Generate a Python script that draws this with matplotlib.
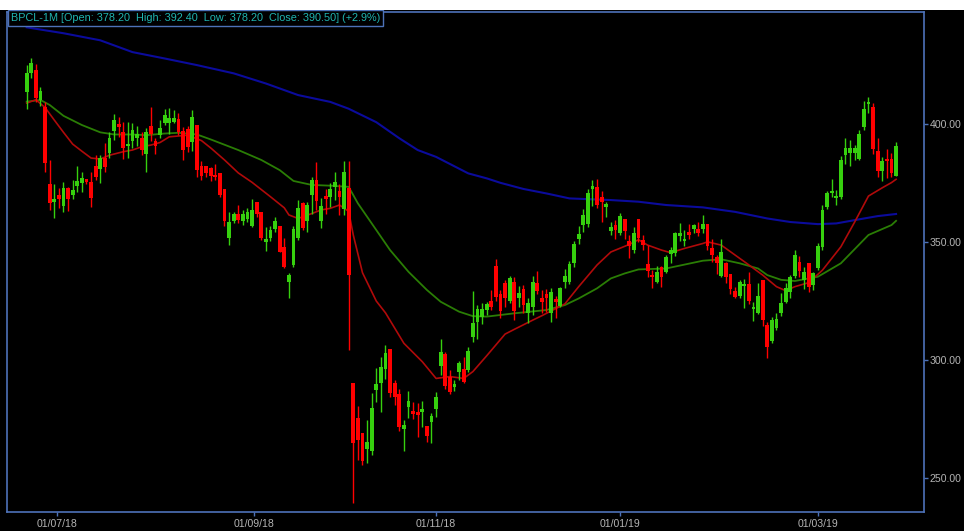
import numpy as np
import pandas as pd
import matplotlib
matplotlib.use("Agg")
import matplotlib.pyplot as plt
from matplotlib.patches import Rectangle

# ---------------- data ----------------
opens = [413.4, 421.5, 422.9, 410.0, 407.3, 374.4, 367.1, 369.9, 365.4, 372.7,
         369.9, 373.9, 375.0, 376.7, 375.3, 382.3, 380.9, 385.7, 387.9, 397.0,
         400.1, 396.7, 390.8, 392.8, 394.2, 393.9, 387.2, 399.3, 392.8, 395.3,
         400.6, 400.3,
         401.0, 402.1, 397.0, 397.9, 392.5, 399.6, 382.4, 382.4, 381.2, 378.4,
         379.1, 372.3, 351.8, 358.9, 362.1, 358.9, 359.7, 356.9, 367.1, 362.9,
         349.9, 351.6, 355.5, 356.9, 348.0, 332.9, 340.3, 351.6, 366.4, 358.9,
         369.9, 376.3, 358.9,
         369.6, 368.9, 373.4, 371.7, 363.8, 372.7, 290.1, 275.3, 269.2, 262.1,
         261.6, 287.3, 290.4, 296.0, 304.5, 290.4, 285.6, 270.6, 280.2, 278.5,
         278.1, 278.1, 272.0, 273.9, 279.1, 297.5, 302.5, 292.9, 288.4, 295.1,
         296.0, 295.8, 309.9, 316.2,
         318.1, 321.2, 325.0, 339.8, 328.0, 332.8, 325.1, 333.2, 326.1, 329.9,
         320.1, 322.6, 332.8, 326.1, 328.0, 319.8, 325.7, 322.9, 333.2, 333.2,
         341.0, 351.1, 357.2, 357.6, 372.3, 373.2, 368.9, 364.7, 354.8, 357.2,
         354.0, 359.6, 350.6, 346.6,
         359.6, 350.9, 340.7, 336.0, 333.2, 339.3, 337.4, 344.9, 345.2, 352.5,
         350.6, 354.4, 355.4, 355.4, 355.4, 357.6, 347.3, 343.5, 335.6, 341.0,
         336.4, 329.4, 327.1, 331.4, 332.2, 321.5, 319.8, 333.9, 314.8, 308.2,
         313.4, 319.8, 324.7,
         328.9, 335.6, 341.7, 333.9, 341.2, 331.8, 338.8, 347.7, 364.7, 370.8,
         368.8, 368.9, 386.9, 387.6, 387.6, 385.4, 398.6, 408.5, 407.1, 388.7,
         380.2, 385.0, 385.0, 378.2]
highs = [425.0, 428.1, 425.3, 415.8, 409.5, 384.7, 374.4, 372.7, 375.6, 373.4,
         376.3, 382.3, 379.5, 376.7, 379.5, 386.9, 387.1, 391.8, 396.5, 404.1,
         403.1, 401.0, 401.0, 400.3, 399.3, 396.5, 398.4, 407.3, 393.9, 401.7,
         406.4, 406.9,
         405.9, 404.5, 398.9, 399.3, 405.9, 399.6, 384.3, 382.4, 381.9, 382.9,
         379.1, 372.3, 362.9, 362.9, 365.7, 363.6, 364.3, 368.2, 367.1, 362.9,
         356.5, 356.9, 360.7, 356.9, 351.6, 336.7, 356.9, 367.8, 367.1, 367.1,
         377.7, 384.0, 368.5,
         372.5, 374.9, 379.8, 374.6, 384.5, 384.5, 290.1, 280.5, 269.2, 274.6,
         286.2, 296.5, 301.4, 306.4, 304.5, 291.5, 287.6, 274.6, 287.0, 282.3,
         281.6, 282.8, 272.0, 277.7, 286.6, 308.8, 303.5, 295.8, 291.5, 299.7,
         301.4, 305.6, 329.4, 323.3,
         324.3, 324.7, 329.7, 342.7, 329.7, 333.9, 335.6, 335.3, 331.3, 331.8,
         326.1, 335.6, 337.9, 329.7, 329.9, 330.4, 327.1, 331.1, 338.4, 342.1,
         350.6, 356.8, 363.8, 372.3, 376.3, 376.6, 371.8, 367.1, 358.6, 359.3,
         362.4, 359.6, 353.0, 356.5,
         359.6, 353.0, 348.7, 338.1, 339.8, 339.8, 344.5, 348.0, 354.4, 357.9,
         355.1, 357.6, 357.6, 358.6, 361.4, 357.6, 351.1, 344.5, 351.1, 341.7,
         336.4, 330.8, 333.9, 334.2, 337.4, 324.7, 332.5, 333.9, 316.2, 318.1,
         320.1, 328.3, 332.5,
         336.0, 346.6, 344.1, 339.5, 341.2, 337.4, 349.4, 365.7, 371.8, 376.6,
         372.0, 386.4, 393.9, 393.2, 391.1, 397.7, 409.9, 411.3, 408.8, 394.2,
         386.2, 389.3, 387.6, 392.4]
lows = [406.6, 419.4, 409.5, 407.8, 379.5, 363.6, 360.0, 364.3, 362.6, 363.1,
        368.2, 371.3, 371.3, 374.4, 365.0, 376.3, 374.9, 379.8, 385.5, 393.2,
        394.6, 385.2, 385.7, 389.7, 390.8, 387.1, 379.8, 392.8, 387.4, 394.2,
        399.6, 396.0,
        400.3, 395.3, 384.7, 388.3, 388.6, 377.7, 376.3, 377.7, 375.9, 376.3,
        369.2, 356.9, 348.7, 357.9, 357.9, 357.2, 358.6, 356.5, 360.7, 350.9,
        346.2, 350.4, 354.1, 345.6, 338.8, 326.1, 339.6, 350.9, 355.1, 354.4,
        362.1, 363.6, 355.8,
        362.1, 365.0, 367.8, 361.5, 361.5, 304.2, 239.3, 257.6, 255.5, 256.2,
        259.8, 282.4, 278.1, 291.8, 284.5, 280.9, 270.1, 261.6, 275.3, 274.9,
        267.5, 271.7, 265.4, 265.0, 276.0, 293.6, 287.6, 285.6, 287.0, 291.5,
        290.1, 295.1, 307.8, 308.8,
        315.3, 319.1, 321.2, 325.1, 317.7, 322.6, 324.0, 316.9, 322.3, 319.8,
        315.5, 319.1, 328.0, 320.1, 320.5, 316.2, 317.7, 322.3, 330.4, 332.2,
        339.3, 349.1, 354.4, 356.2, 365.3, 364.3, 358.6, 360.7, 353.0, 351.5,
        353.0, 351.5, 343.1, 345.2,
        350.1, 346.6, 335.3, 330.4, 332.8, 330.8, 336.7, 341.2, 344.1, 350.6,
        348.3, 351.1, 354.0, 352.5, 354.0, 346.6, 341.7, 336.4, 335.0, 332.8,
        328.0, 326.5, 326.5, 321.9, 323.7, 316.7, 319.5, 314.4, 300.7, 307.4,
        312.7, 318.6, 324.0,
        326.1, 334.6, 335.3, 329.9, 329.0, 329.7, 338.1, 346.6, 363.8, 369.2,
        365.7, 368.1, 383.1, 382.2, 384.8, 384.8, 397.5, 404.5, 387.3, 377.4,
        376.0, 377.0, 377.4, 378.2]
closes = [421.8, 425.7, 411.2, 414.1, 383.3, 366.4, 368.2, 368.2, 372.7, 368.2,
          372.0, 375.8, 377.0, 375.3, 368.5, 377.7, 385.7, 381.9, 393.9, 401.7,
          398.9, 390.0, 391.2, 397.5, 396.0, 389.0, 396.7, 395.9, 390.7, 398.4,
          403.8, 402.7,
          402.7, 396.5, 389.0, 390.4, 403.1, 380.5, 378.1, 379.1, 378.1, 377.7,
          369.9, 358.9, 358.6, 362.1, 359.3, 362.1, 362.9, 363.6, 361.7, 351.6,
          351.3, 355.1, 358.9, 345.9, 339.6, 336.0, 355.5, 364.3, 355.8, 365.7,
          376.3, 367.4, 365.4,
          368.4, 372.3, 375.3, 369.2, 379.8, 336.0, 265.0, 266.1, 257.3, 265.4,
          279.5, 289.8, 296.9, 303.1, 285.9, 284.5, 271.7, 272.6, 282.8, 277.1,
          276.7, 279.1, 267.8, 276.3, 284.5, 303.5, 289.0, 286.6, 289.8, 298.6,
          290.8, 304.0, 315.8, 321.5,
          321.5, 323.7, 322.3, 326.8, 320.9, 326.5, 334.6, 320.9, 328.5, 323.3,
          324.3, 333.2, 329.4, 324.7, 326.1, 329.0, 324.7, 330.4, 335.6, 340.7,
          349.1, 353.4, 361.4, 370.9, 373.7, 365.7, 367.1, 366.1, 356.2, 355.1,
          361.0, 354.8, 348.3, 353.7,
          351.6, 348.7, 337.9, 335.3, 337.4, 335.0, 343.5, 346.6, 354.0, 354.0,
          351.1, 353.0, 357.2, 354.0, 357.6, 348.3, 344.5, 341.2, 345.9, 335.0,
          329.9, 326.8, 333.2, 331.8, 325.1, 322.3, 327.1, 317.0, 305.7, 317.0,
          317.2, 324.0, 330.4,
          335.0, 344.5, 337.9, 337.4, 331.1, 336.7, 348.3, 363.6, 370.6, 371.6,
          369.6, 384.8, 389.7, 389.7, 389.7, 396.0, 406.6, 409.5, 389.3, 380.2,
          384.5, 384.5, 379.4, 390.5]

# moving-average lines, read at selected candle indices
ma_short_idx = [0, 2, 4, 6, 8, 10, 12, 14, 16, 18, 21, 23, 25, 27, 29, 31, 35, 38,
                40, 43, 46, 49, 53, 56, 57, 59, 62, 64, 66, 68, 70, 71, 73, 76, 78,
                82, 86, 89, 92, 95, 97, 100, 104, 106, 110, 112, 117, 120, 124, 127,
                131, 133, 135, 138, 140, 143, 147, 148, 151, 154, 157, 160, 163, 165,
                167, 170, 173, 177, 180, 183, 186, 188, 189]
ma_short_val = [408.9, 410.3, 407.0, 401.7, 396.5, 391.5, 388.5, 385.6, 385.2, 386.8,
                388.3, 389.0, 390.4, 391.1, 392.2, 394.6, 395.3, 393.0, 389.9, 384.8,
                379.3, 375.3, 369.2, 364.5, 361.5, 360.0, 362.1, 363.6, 364.3, 365.7,
                363.0, 353.0, 337.0, 325.0, 320.0, 307.1, 299.3, 292.2, 293.0, 292.2,
                295.1, 301.8, 311.0, 313.0, 316.9, 318.8, 323.8, 331.1, 340.3, 345.8,
                349.0, 351.0, 348.7, 346.6, 345.5, 347.3, 349.4, 350.1, 348.7, 344.5,
                340.3, 336.0, 331.1, 329.4, 331.1, 332.8, 338.1, 348.0, 358.5, 369.5,
                373.0, 375.2, 376.6]

ma_mid_idx = [0, 3, 5, 8, 12, 16, 19, 23, 26, 30, 33, 37, 40, 46, 51, 55, 58, 62, 66,
              70, 72, 76, 79, 83, 87, 90, 94, 97, 100, 106, 113, 117, 120, 124, 127,
              130, 133, 139, 147, 151, 155, 159, 161, 164, 167, 172, 177, 183, 188, 189]
ma_mid_val = [409.5, 410.2, 408.1, 403.5, 399.6, 396.5, 395.6, 395.6, 395.3, 396.0,
              396.3, 395.6, 393.5, 389.0, 384.8, 380.5, 375.9, 374.2, 373.9, 373.4,
              366.4, 355.1, 346.6, 337.4, 329.7, 324.7, 320.5, 318.6, 318.4, 319.8,
              321.2, 323.3, 326.1, 330.4, 334.6, 336.7, 338.4, 338.8, 342.1, 342.7,
              341.0, 338.8, 336.0, 334.0, 333.5, 335.3, 341.0, 353.0, 357.2, 359.0]

ma_long_idx = [0, 8, 16, 23, 30, 37, 45, 52, 59, 66, 70, 76, 81, 85, 89, 96, 100,
               103, 108, 113, 118, 127, 133, 139, 147, 154, 161, 166, 172, 176, 180,
               185, 189]
ma_long_val = [441.0, 438.5, 435.5, 430.5, 427.8, 425.0, 421.5, 417.2, 412.3, 409.4,
               406.5, 400.8, 394.0, 389.0, 386.1, 379.1, 377.0, 375.1, 372.5, 370.6,
               368.5, 367.8, 367.1, 365.7, 364.7, 362.8, 360.0, 358.5, 357.6, 357.9,
               359.3, 361.0, 361.9]

holidays = ["2018-08-15", "2018-08-22", "2018-09-13", "2018-09-20", "2018-10-02",
            "2018-10-18", "2018-11-08", "2018-11-23", "2018-12-25", "2019-03-04",
            "2019-03-21"]
tick_dates = ["2018-07-01", "2018-09-01", "2018-11-01", "2019-01-01", "2019-03-01"]
tick_labels = ["01/07/18", "01/09/18", "01/11/18", "01/01/19", "01/03/19"]
y_ticks = [250, 300, 350, 400]
title = "BPCL-1M [Open: 378.20  High: 392.40  Low: 378.20  Close: 390.50] (+2.9%)"

# ---------------- figure ----------------
n = len(opens)
o = np.array(opens); h = np.array(highs); l = np.array(lows); c = np.array(closes)
x = np.arange(n)

days = pd.bdate_range("2018-06-21", "2019-04-30")
days = days[~days.isin(pd.to_datetime(holidays))][:n]
tick_pos = np.interp(pd.to_datetime(tick_dates).values.astype("int64").astype(float),
                     days.values.astype("int64").astype(float), x.astype(float))

BG = "#000000"
FRAME = "#4d72b8"
TXT = "#b4b4b4"
UP = "#36d00e"
DN = "#ff0000"

fig = plt.figure(figsize=(9.64, 5.31), dpi=100, facecolor=BG)
ax = fig.add_axes([7 / 964, 1 - 512 / 531, (924 - 7) / 964, (512 - 12) / 531])
ax.set_facecolor(BG)

# white strip at the very top
fig.patches.append(Rectangle((0, 1 - 10 / 531), 1, 10 / 531, transform=fig.transFigure,
                             facecolor="white", edgecolor="none", zorder=0))

# moving averages
ax.plot(ma_long_idx, ma_long_val, color="#0b0b9c", lw=1.5, zorder=2)
ax.plot(ma_mid_idx, ma_mid_val, color="#2a7d05", lw=1.3, zorder=2)
ax.plot(ma_short_idx, ma_short_val, color="#b00a0a", lw=1.2, zorder=2)

# candles
up = c >= o
cols = np.where(up, UP, DN)
ax.vlines(x, l, h, colors=cols, lw=1.0, zorder=3)
body_lo = np.minimum(o, c)
body_h = np.maximum(np.abs(c - o), 0.8)
ax.bar(x, body_h, bottom=body_lo, width=0.8, color=cols, edgecolor="none", zorder=4)

ax.set_xlim(-4.28, 195.07)
ax.set_ylim(235.6, 447.5)

ax.yaxis.tick_right()
ax.set_yticks(y_ticks)
ax.set_yticklabels([f"{v:.2f}" for v in y_ticks])
ax.set_xticks(tick_pos)
ax.set_xticklabels(tick_labels)
ax.tick_params(axis="both", colors=FRAME, labelcolor=TXT, length=3, width=1,
               labelsize=7.6, direction="out")
ax.tick_params(axis="y", pad=1)
ax.tick_params(axis="x", pad=2)
for lab in ax.get_xticklabels() + ax.get_yticklabels():
    lab.set_fontfamily("Liberation Sans")
for s in ax.spines.values():
    s.set_color(FRAME)
    s.set_linewidth(1.2)

ax.text(0.004, 0.998, title, transform=ax.transAxes, ha="left", va="top",
        color="#1fb5b0", fontsize=7.8, family="Liberation Sans", zorder=6,
        bbox=dict(boxstyle="square,pad=0.25", facecolor="black", edgecolor=FRAME, lw=1))

fig.savefig("out.png", dpi=100, facecolor=BG)
